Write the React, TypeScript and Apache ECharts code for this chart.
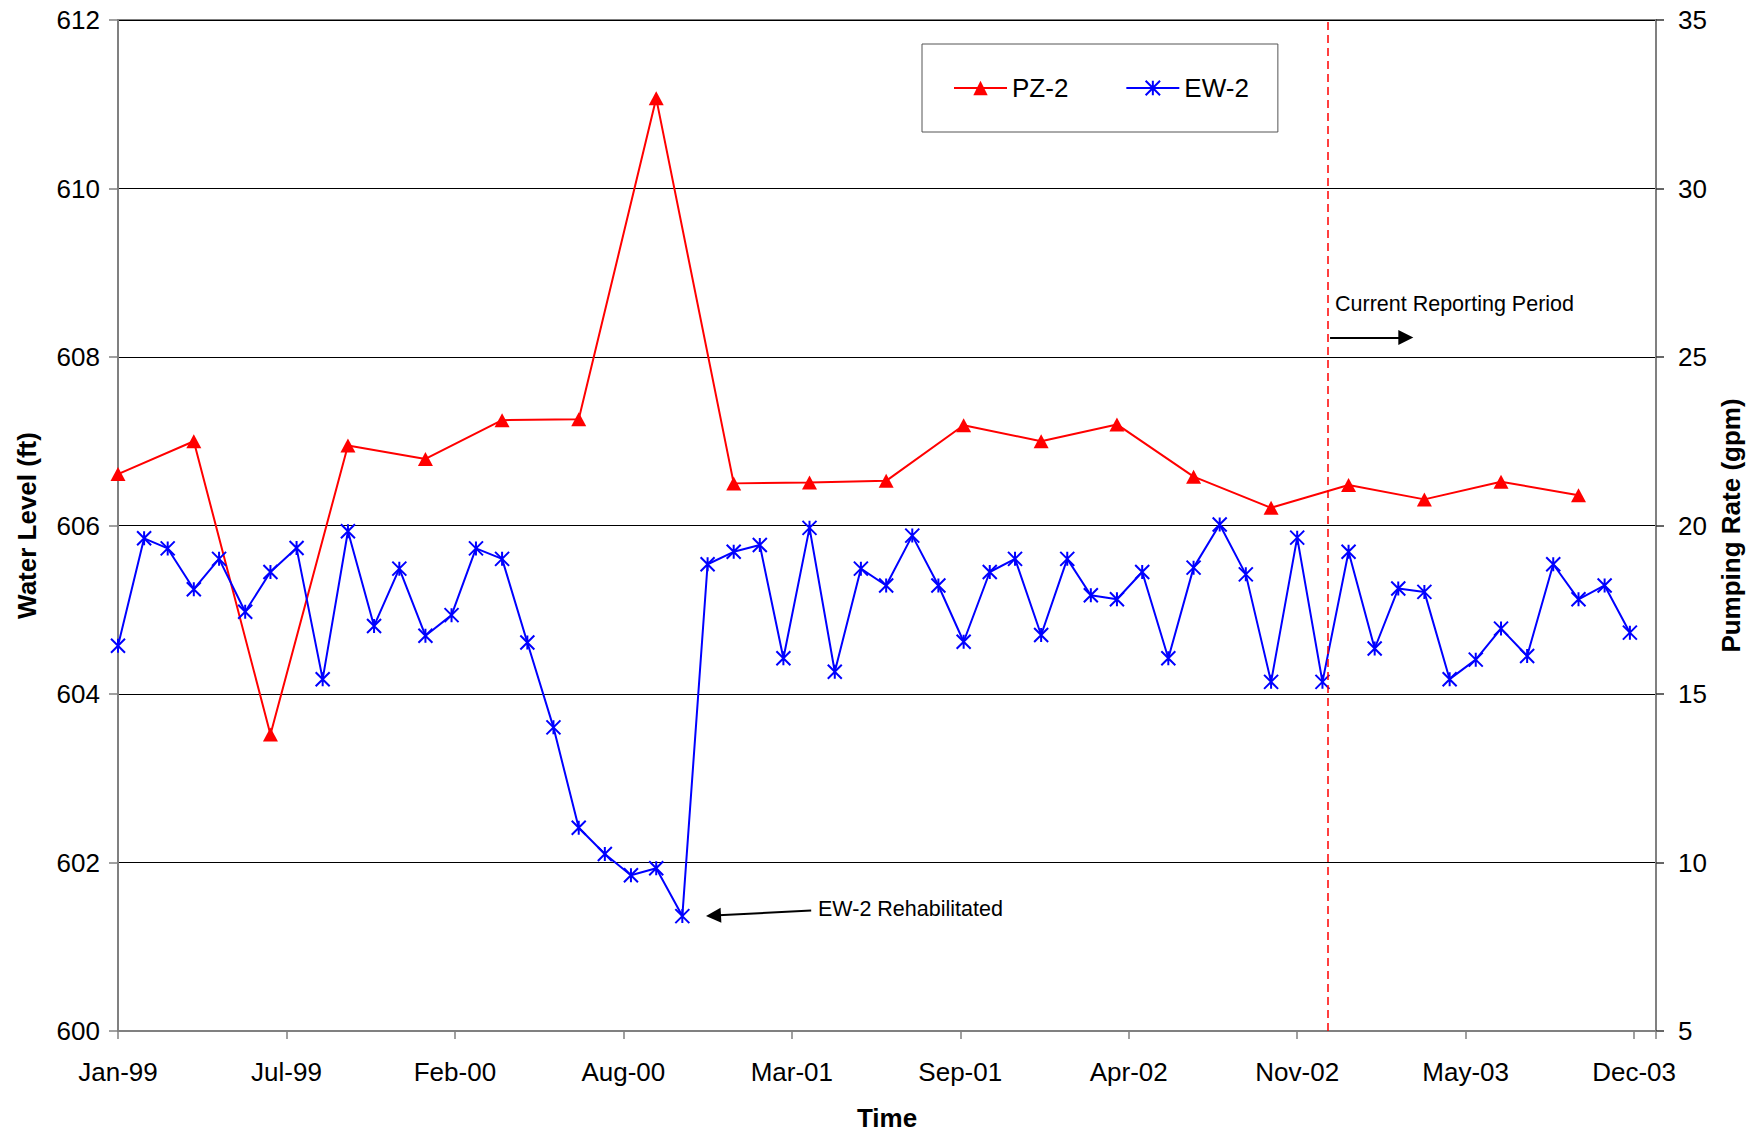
import React, { useEffect, useRef } from 'react';
import * as echarts from 'echarts';

const FONT = "'Liberation Sans', Arial, Helvetica, sans-serif";

// PZ-2 water level (ft), quarterly
const pzDates = [
  '1999-01-01', '1999-04-01', '1999-07-01', '1999-10-01',
  '2000-01-01', '2000-04-01', '2000-07-01', '2000-10-01',
  '2001-01-01', '2001-04-01', '2001-07-01', '2001-10-01',
  '2002-01-01', '2002-04-01', '2002-07-01', '2002-10-01',
  '2003-01-01', '2003-04-01', '2003-07-01', '2003-10-01',
];
const pzValues = [
  606.61, 607.0, 603.52, 606.95, 606.79, 607.25, 607.26, 611.07, 606.5, 606.51,
  606.53, 607.19, 607.0, 607.2, 606.58, 606.21, 606.48, 606.31, 606.52, 606.36,
];

// EW-2 pumping rate (gpm), monthly
const ewDates = [
  '1999-01-01', '1999-02-01', '1999-03-01', '1999-04-01', '1999-05-01', '1999-06-01',
  '1999-07-01', '1999-08-01', '1999-09-01', '1999-10-01', '1999-11-01', '1999-12-01',
  '2000-01-01', '2000-02-01', '2000-03-01', '2000-04-01', '2000-05-01', '2000-06-01',
  '2000-07-01', '2000-08-01', '2000-09-01', '2000-10-01', '2000-11-01', '2000-12-01',
  '2001-01-01', '2001-02-01', '2001-03-01', '2001-04-01', '2001-05-01', '2001-06-01',
  '2001-07-01', '2001-08-01', '2001-09-01', '2001-10-01', '2001-11-01', '2001-12-01',
  '2002-01-01', '2002-02-01', '2002-03-01', '2002-04-01', '2002-05-01', '2002-06-01',
  '2002-07-01', '2002-08-01', '2002-09-01', '2002-10-01', '2002-11-01', '2002-12-01',
  '2003-01-01', '2003-02-01', '2003-03-01', '2003-04-01', '2003-05-01', '2003-06-01',
  '2003-07-01', '2003-08-01', '2003-09-01', '2003-10-01', '2003-11-01', '2003-12-01',
];
const ewValues = [
  16.43, 19.62, 19.32, 18.11, 19.01, 17.44, 18.62, 19.33, 15.44, 19.83,
  17.02, 18.72, 16.73, 17.34, 19.32, 19.01, 16.53, 14.01, 11.03, 10.25,
  9.62, 9.83, 8.41, 18.85, 19.22, 19.42, 16.06, 19.93, 15.66, 18.72,
  18.22, 19.7, 18.22, 16.55, 18.62, 19.01, 16.75, 19.01, 17.93, 17.81,
  18.62, 16.06, 18.75, 20.03, 18.55, 15.36, 19.64, 15.36, 19.22, 16.35,
  18.13, 18.03, 15.44, 16.02, 16.94, 16.13, 18.85, 17.81, 18.22, 16.82,
];

// Axis settings
const X_START = '1999-01-01';
const X_END = '2004-01-01';
const X_TICK_DAYS = 200;
const leftAxis = { min: 600, max: 612, interval: 2 };
const rightAxis = { min: 5, max: 35, interval: 5 };
const MONTHS = ['Jan', 'Feb', 'Mar', 'Apr', 'May', 'Jun', 'Jul', 'Aug', 'Sep', 'Oct', 'Nov', 'Dec'];

// Annotations (data coordinates on left axis)
const reportingStart = '2002-12-07';
const reportingArrow = { from: ['2002-12-10', 608.23], to: ['2003-03-10', 608.23] };
const rehabArrow = { from: ['2001-04-03', 601.43], to: ['2000-12-08', 601.37] };

const DAY0 = Date.parse(X_START + 'T00:00:00Z');
const toDay = (s: string) => Math.round((Date.parse(s + 'T00:00:00Z') - DAY0) / 86400000);

const xFormatter = (v: number) => {
  if (Math.round(v) % X_TICK_DAYS !== 0) return '';
  const d = new Date(DAY0 + v * 86400000);
  return MONTHS[d.getUTCMonth()] + '-' + String(d.getUTCFullYear() % 100).padStart(2, '0');
};

export default function App() {
  const ref = useRef<HTMLDivElement>(null);
  useEffect(() => {
    if (!ref.current) return;
    const chart = echarts.init(ref.current, undefined, { renderer: 'svg' });
    const axisLineStyle = { color: '#808080', width: 2 };
    const option: any = {
      animation: false,
      backgroundColor: '#ffffff',
      textStyle: { fontFamily: FONT },
      grid: {
        left: 118, top: 20, width: 1538, height: 1017,
        show: true, borderColor: '#808080', borderWidth: 2, backgroundColor: 'transparent',
      },
      legend: {
        left: 922, top: 44,
        padding: [31, 29, 31, 31],
        itemGap: 57, itemWidth: 53, itemHeight: 18,
        borderColor: '#555', borderWidth: 1, backgroundColor: '#fff',
        textStyle: { fontSize: 26, color: '#000', fontFamily: FONT },
        data: ['PZ-2', 'EW-2'],
      },
      xAxis: {
        type: 'value', min: 0, max: toDay(X_END), interval: X_TICK_DAYS,
        name: 'Time', nameLocation: 'middle', nameGap: 74,
        nameTextStyle: { fontSize: 26, fontWeight: 'bold', color: '#000', fontFamily: FONT },
        axisLine: { show: true, lineStyle: axisLineStyle },
        axisTick: { show: true, length: 8, lineStyle: { color: '#808080', width: 1.5 } },
        axisLabel: { formatter: xFormatter, fontSize: 26, color: '#000', margin: 28, fontFamily: FONT },
        splitLine: { show: false },
      },
      yAxis: [
        {
          type: 'value', position: 'left', ...leftAxis,
          name: 'Water Level (ft)', nameLocation: 'middle', nameRotate: 90, nameGap: 78,
          nameTextStyle: { fontSize: 26, fontWeight: 'bold', color: '#000', fontFamily: FONT },
          axisLine: { show: true, lineStyle: axisLineStyle },
          axisTick: { show: true, length: 9, lineStyle: { color: '#808080', width: 1.5 } },
          axisLabel: { fontSize: 26, color: '#000', margin: 18, fontFamily: FONT },
          splitLine: { show: true, lineStyle: { color: '#000', width: 1 } },
        },
        {
          type: 'value', position: 'right', ...rightAxis,
          name: 'Pumping Rate (gpm)', nameLocation: 'middle', nameRotate: 90, nameGap: 62,
          nameTextStyle: { fontSize: 26, fontWeight: 'bold', color: '#000', fontFamily: FONT },
          axisLine: { show: true, lineStyle: axisLineStyle },
          axisTick: { show: true, length: 8, lineStyle: { color: '#333', width: 1.5 } },
          axisLabel: { fontSize: 26, color: '#000', margin: 22, fontFamily: FONT },
          splitLine: { show: false },
        },
      ],
      series: [
        {
          name: 'PZ-2', type: 'line', yAxisIndex: 0, clip: false,
          data: pzDates.map((d, i) => [toDay(d), pzValues[i]]),
          symbol: 'triangle', symbolSize: [15, 14],
          itemStyle: { color: '#ff0000' },
          lineStyle: { color: '#ff0000', width: 2 },
          markLine: {
            silent: true, animation: false,
            symbol: ['none', 'triangle'], symbolSize: 15,
            label: { show: false },
            itemStyle: { color: '#000' },
            lineStyle: { color: '#000', width: 2, type: 'solid' },
            emphasis: { disabled: true },
            data: [
              [
                { coord: [toDay(reportingArrow.from[0] as string), reportingArrow.from[1]] },
                { coord: [toDay(reportingArrow.to[0] as string), reportingArrow.to[1]] },
              ],
              [
                { coord: [toDay(rehabArrow.from[0] as string), rehabArrow.from[1]] },
                { coord: [toDay(rehabArrow.to[0] as string), rehabArrow.to[1]] },
              ],
            ],
          },
        },
        {
          name: 'EW-2', type: 'line', yAxisIndex: 1, clip: false,
          data: ewDates.map((d, i) => [toDay(d), ewValues[i]]),
          symbol: 'path://M0 0L10 10M10 0L0 10M5 0L5 10', symbolSize: 14,
          itemStyle: { color: '#0000ff', borderColor: '#0000ff', borderWidth: 2 },
          lineStyle: { color: '#0000ff', width: 2 },
          markLine: {
            silent: true, animation: false,
            symbol: ['none', 'none'],
            label: { show: false },
            lineStyle: { color: '#ff0000', width: 1.5, type: [8, 5] },
            emphasis: { disabled: true },
            data: [{ xAxis: toDay(reportingStart) }],
          },
        },
      ],
      graphic: [
        {
          type: 'text', x: 1335, y: 304,
          style: { text: 'Current Reporting Period', fontSize: 21.5, fontFamily: FONT, fill: '#000', align: 'left', verticalAlign: 'middle' },
        },
        {
          type: 'text', x: 818, y: 909,
          style: { text: 'EW-2 Rehabilitated', fontSize: 21.5, fontFamily: FONT, fill: '#000', align: 'left', verticalAlign: 'middle' },
        },
      ],
    };
    chart.setOption(option);
    return () => chart.dispose();
  }, []);
  return (
    <div
      ref={ref}
      style={{ position: 'absolute', left: 0, top: 0, width: 1763, height: 1136, background: '#fff' }}
    />
  );
}
